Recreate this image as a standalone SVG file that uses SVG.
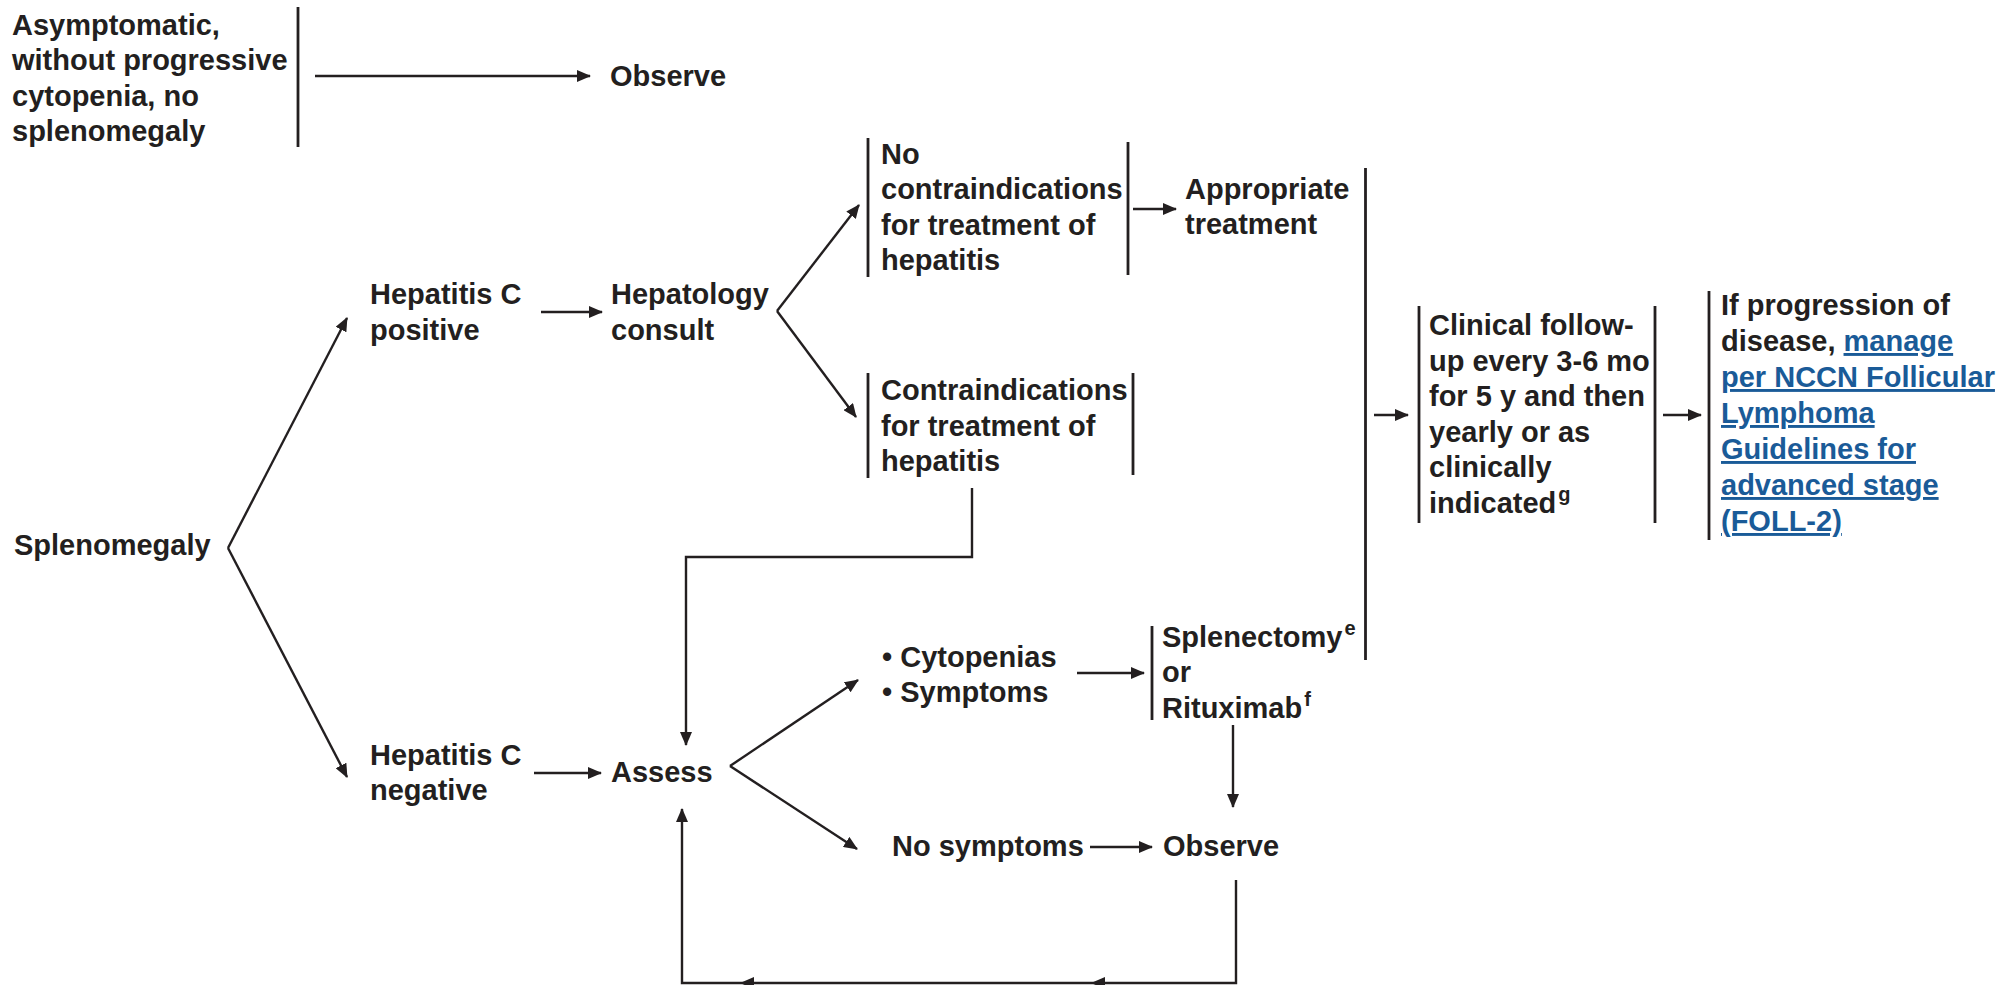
<svg xmlns="http://www.w3.org/2000/svg" width="2001" height="985" viewBox="0 0 2001 985">
  <style>
    text { font-family: "Liberation Sans", Arial, sans-serif; font-weight: bold; font-size: 29px; fill: #231f20; }
    .sup { font-size: 20px; }
    .link { fill: #1a5b98; text-decoration: underline; }
    .bar { stroke: #231f20; stroke-width: 2.8; fill: none; }
    .edge { stroke: #231f20; stroke-width: 2.4; fill: none; marker-end: url(#head); }
  </style>
  <defs>
    <marker id="head" viewBox="0 0 14 12" refX="13" refY="6" markerWidth="14" markerHeight="12" markerUnits="userSpaceOnUse" orient="auto">
      <path d="M0,0 L14,6 L0,12 z" fill="#231f20"/>
    </marker>
    <path id="headLeft" d="M0,0 L14,-6 L14,6 z" fill="#231f20"/>
  </defs>
  <rect width="2001" height="985" fill="#ffffff"/>

  <!-- nodes -->
  <g id="asymptomatic">
    <text x="12" y="34.5">Asymptomatic,</text>
    <text x="12" y="70">without progressive</text>
    <text x="12" y="105.5">cytopenia, no</text>
    <text x="12" y="141">splenomegaly</text>
    <line class="bar" x1="298" y1="7" x2="298" y2="147"/>
  </g>
  <g id="observe-top">
    <text x="610" y="86">Observe</text>
  </g>
  <g id="splenomegaly">
    <text x="14" y="555">Splenomegaly</text>
  </g>
  <g id="hepc-positive">
    <text x="370" y="304">Hepatitis C</text>
    <text x="370" y="340">positive</text>
  </g>
  <g id="hepatology-consult">
    <text x="611" y="304">Hepatology</text>
    <text x="611" y="340">consult</text>
  </g>
  <g id="no-contraindications">
    <line class="bar" x1="868" y1="138" x2="868" y2="277"/>
    <text x="881" y="163.5">No</text>
    <text x="881" y="199">contraindications</text>
    <text x="881" y="234.5">for treatment of</text>
    <text x="881" y="270">hepatitis</text>
    <line class="bar" x1="1128" y1="142" x2="1128" y2="275"/>
  </g>
  <g id="appropriate-treatment">
    <text x="1185" y="198.5">Appropriate</text>
    <text x="1185" y="234">treatment</text>
  </g>
  <g id="contraindications">
    <line class="bar" x1="868" y1="373" x2="868" y2="478"/>
    <text x="881" y="400">Contraindications</text>
    <text x="881" y="435.5">for treatment of</text>
    <text x="881" y="471">hepatitis</text>
    <line class="bar" x1="1133" y1="373" x2="1133" y2="475"/>
  </g>
  <g id="hepc-negative">
    <text x="370" y="765">Hepatitis C</text>
    <text x="370" y="800">negative</text>
  </g>
  <g id="assess">
    <text x="611" y="782">Assess</text>
  </g>
  <g id="cytopenias-symptoms">
    <text x="882" y="666.5">• Cytopenias</text>
    <text x="882" y="702">• Symptoms</text>
  </g>
  <g id="splenectomy-rituximab">
    <line class="bar" x1="1152" y1="626" x2="1152" y2="720"/>
    <text x="1162" y="646.5">Splenectomy<tspan class="sup" dx="2" dy="-12">e</tspan></text>
    <text x="1162" y="682">or</text>
    <text x="1162" y="717.5">Rituximab<tspan class="sup" dx="2" dy="-12">f</tspan></text>
  </g>
  <g id="no-symptoms">
    <text x="892" y="856">No symptoms</text>
  </g>
  <g id="observe-bottom">
    <text x="1163" y="856">Observe</text>
  </g>
  <g id="treatment-bracket">
    <line class="bar" x1="1365.5" y1="168" x2="1365.5" y2="660"/>
  </g>
  <g id="clinical-follow-up">
    <line class="bar" x1="1419" y1="306" x2="1419" y2="523"/>
    <text x="1429" y="335">Clinical follow-</text>
    <text x="1429" y="370.6">up every 3-6 mo</text>
    <text x="1429" y="406.2">for 5 y and then</text>
    <text x="1429" y="441.8">yearly or as</text>
    <text x="1429" y="477.4">clinically</text>
    <text x="1429" y="513">indicated<tspan class="sup" dx="2" dy="-12">g</tspan></text>
    <line class="bar" x1="1655" y1="306" x2="1655" y2="523"/>
  </g>
  <g id="progression">
    <line class="bar" x1="1709" y1="291" x2="1709" y2="540"/>
    <text x="1721" y="315">If progression of</text>
    <text x="1721" y="351">disease, <tspan class="link">manage</tspan></text>
    <text x="1721" y="387" class="link">per NCCN Follicular</text>
    <text x="1721" y="423" class="link">Lymphoma</text>
    <text x="1721" y="459" class="link">Guidelines for</text>
    <text x="1721" y="495" class="link">advanced stage</text>
    <text x="1721" y="531" class="link">(FOLL-2)</text>
  </g>

  <!-- connectors -->
  <g id="connectors">
    <path class="edge" d="M315,76 H590"/>
    <path class="edge" d="M228,548 L347,318"/>
    <path class="edge" d="M228,548 L347,777"/>
    <path class="edge" d="M541,312 H602"/>
    <path class="edge" d="M777,311 L859,205"/>
    <path class="edge" d="M777,311 L856,417"/>
    <path class="edge" d="M1133,209 H1176"/>
    <path class="edge" d="M972,488 V557 H686 V745"/>
    <path class="edge" d="M534,773 H601"/>
    <path class="edge" d="M730,766 L858,680"/>
    <path class="edge" d="M730,766 L857,849"/>
    <path class="edge" d="M1077,673 H1144"/>
    <path class="edge" d="M1233,725 V807"/>
    <path class="edge" d="M1090,847 H1152"/>
    <path class="edge" d="M1236,880 V983 H682 V809"/>
    <use href="#headLeft" x="1091" y="983"/>
    <use href="#headLeft" x="740" y="983"/>
    <path class="edge" d="M1374,415 H1408"/>
    <path class="edge" d="M1663,415 H1701"/>
  </g>
</svg>
